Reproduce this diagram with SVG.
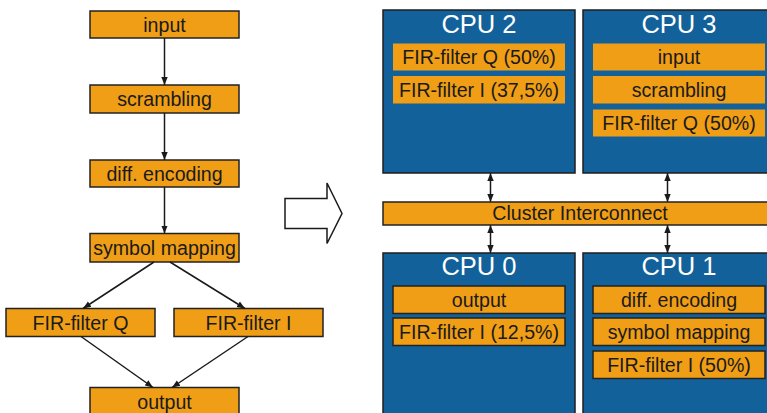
<svg xmlns="http://www.w3.org/2000/svg" width="767" height="413" viewBox="0 0 767 413">
  <style>
    .task { fill: #EF9E16; stroke: #222; stroke-width: 1.5; }
    .task-plain { fill: #EF9E16; stroke: none; }
    .cpu { fill: #13619A; stroke: #1e1e1e; stroke-width: 1.5; }
    .lbl { font-family: "Liberation Sans", Arial, sans-serif; font-size: 19.6px; fill: #1a1a1a; text-anchor: middle; }
    .title { font-family: "Liberation Sans", Arial, sans-serif; font-size: 25.5px; fill: #ffffff; text-anchor: middle; }
    .edge { stroke: #1a1a1a; stroke-width: 1.5; fill: none; }
  </style>
  <defs>
    <marker id="head" viewBox="0 0 10 10" refX="10" refY="5" markerWidth="8" markerHeight="8" markerUnits="userSpaceOnUse" orient="auto-start-reverse">
      <path d="M0,1 L10,5 L0,9 z" fill="#1a1a1a"/>
    </marker>
  </defs>

  <!-- task graph -->
  <g id="input"><rect class="task" x="90" y="11" width="149" height="27"/><text class="lbl" x="164.5" y="31.5">input</text></g>
  <g id="scrambling"><rect class="task" x="90" y="85" width="149" height="28"/><text class="lbl" x="164.5" y="106">scrambling</text></g>
  <g id="diff-encoding"><rect class="task" x="90" y="160" width="149" height="27"/><text class="lbl" x="164.5" y="180.5">diff. encoding</text></g>
  <g id="symbol-mapping"><rect class="task" x="90" y="233.5" width="149" height="28.5"/><text class="lbl" x="164.5" y="254.5">symbol mapping</text></g>
  <g id="fir-q"><rect class="task" x="6" y="308.5" width="149" height="28"/><text class="lbl" x="80.5" y="329.5">FIR-filter Q</text></g>
  <g id="fir-i"><rect class="task" x="174" y="308.5" width="149" height="28"/><text class="lbl" x="248.5" y="329.5">FIR-filter I</text></g>
  <g id="output"><rect class="task" x="90" y="387.5" width="149" height="28"/><text class="lbl" x="164.5" y="408.5">output</text></g>

  <g id="edges">
    <line class="edge" x1="164.5" y1="38" x2="164.5" y2="85" marker-end="url(#head)"/>
    <line class="edge" x1="164.5" y1="113" x2="164.5" y2="160" marker-end="url(#head)"/>
    <line class="edge" x1="164.5" y1="187" x2="164.5" y2="233.5" marker-end="url(#head)"/>
    <line class="edge" x1="154" y1="262" x2="83" y2="308.5" marker-end="url(#head)"/>
    <line class="edge" x1="170" y1="262" x2="245" y2="308.5" marker-end="url(#head)"/>
    <line class="edge" x1="81" y1="336.5" x2="153" y2="387.5" marker-end="url(#head)"/>
    <line class="edge" x1="248" y1="336.5" x2="172" y2="387.5" marker-end="url(#head)"/>
    <!-- links to the cluster interconnect -->
    <line class="edge" x1="490.5" y1="173" x2="490.5" y2="202" marker-start="url(#head)" marker-end="url(#head)"/>
    <line class="edge" x1="667.5" y1="173" x2="667.5" y2="202" marker-start="url(#head)" marker-end="url(#head)"/>
    <line class="edge" x1="490.5" y1="225" x2="490.5" y2="253" marker-start="url(#head)" marker-end="url(#head)"/>
    <line class="edge" x1="667.5" y1="225" x2="667.5" y2="253" marker-start="url(#head)" marker-end="url(#head)"/>
  </g>

  <!-- mapping arrow -->
  <g id="map-arrow">
    <polygon points="285,198.5 327,198.5 327,183 342,213.5 327,243.5 327,228.5 285,228.5" fill="#ffffff" stroke="#1a1a1a" stroke-width="1.5"/>
  </g>

  <!-- processors -->
  <g id="cpu2">
    <rect class="cpu" x="383" y="10" width="192" height="163"/>
    <text class="title" x="479" y="33">CPU 2</text>
    <rect class="task-plain" x="393" y="43.5" width="172" height="27"/><text class="lbl" x="479" y="64">FIR-filter Q (50%)</text>
    <rect class="task-plain" x="393" y="76" width="172" height="27.5"/><text class="lbl" x="479" y="96.5">FIR-filter I (37,5%)</text>
  </g>
  <g id="cpu3">
    <rect class="cpu" x="583" y="10" width="192" height="163"/>
    <text class="title" x="679" y="33">CPU 3</text>
    <rect class="task-plain" x="593" y="43.5" width="172" height="27"/><text class="lbl" x="679" y="64">input</text>
    <rect class="task-plain" x="593" y="76" width="172" height="27.5"/><text class="lbl" x="679" y="96.5">scrambling</text>
    <rect class="task-plain" x="593" y="109.5" width="172" height="27"/><text class="lbl" x="679" y="130">FIR-filter Q (50%)</text>
  </g>
  <g id="interconnect">
    <rect class="task" x="383" y="202" width="394" height="23"/>
    <text class="lbl" x="580" y="219.5">Cluster Interconnect</text>
  </g>
  <g id="cpu0">
    <rect class="cpu" x="383" y="253" width="192" height="170"/>
    <text class="title" x="479" y="275">CPU 0</text>
    <rect class="task" x="393" y="286" width="172" height="27.5"/><text class="lbl" x="479" y="306.5">output</text>
    <rect class="task" x="393" y="318" width="172" height="27.5"/><text class="lbl" x="479" y="338.5">FIR-filter I (12,5%)</text>
  </g>
  <g id="cpu1">
    <rect class="cpu" x="583" y="253" width="192" height="170"/>
    <text class="title" x="679" y="275">CPU 1</text>
    <rect class="task" x="593" y="286" width="172" height="27.5"/><text class="lbl" x="679" y="306.5">diff. encoding</text>
    <rect class="task" x="593" y="318" width="172" height="27.5"/><text class="lbl" x="679" y="338.5">symbol mapping</text>
    <rect class="task" x="593" y="351" width="172" height="27.5"/><text class="lbl" x="679" y="371.5">FIR-filter I (50%)</text>
  </g>
</svg>
